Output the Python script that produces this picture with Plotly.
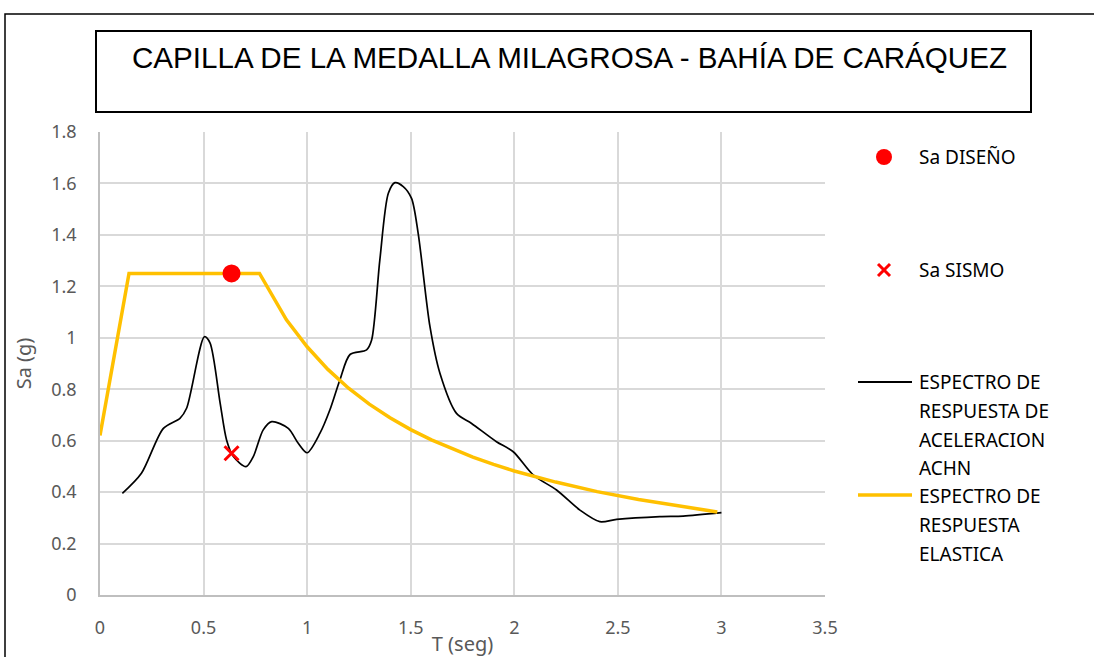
import plotly.graph_objects as go

# ---- data ----
t_achn = [0.108, 0.20, 0.306, 0.386, 0.418, 0.504, 0.531, 0.58, 0.611, 0.644, 0.705, 0.74, 0.788,
          0.829, 0.909, 0.957, 1.0, 1.062, 1.11, 1.158, 1.207, 1.287, 1.311, 1.351, 1.392, 1.424,
          1.464, 1.504, 1.536, 1.593, 1.641, 1.721, 1.794, 1.914, 1.995, 2.091, 2.204, 2.317,
          2.413, 2.494, 2.703, 2.815, 3.0]
sa_achn = [0.395, 0.473, 0.648, 0.687, 0.726, 1.004, 0.98, 0.746, 0.603, 0.538, 0.499, 0.538, 0.642,
           0.674, 0.648, 0.59, 0.553, 0.629, 0.72, 0.836, 0.935, 0.953, 0.99, 1.303, 1.562, 1.603,
           1.588, 1.542, 1.406, 1.043, 0.862, 0.706, 0.667, 0.596, 0.557, 0.467, 0.408, 0.33,
           0.285, 0.294, 0.305, 0.307, 0.32]

t_elast = [0.0, 0.14, 0.77, 0.85, 0.9, 1.0, 1.1, 1.2, 1.3, 1.4, 1.5, 1.6, 1.7, 1.8, 1.9, 2.0,
           2.2, 2.4, 2.6, 2.8, 2.98]
sa_elast = [0.62, 1.25, 1.25, 1.135, 1.07, 0.965, 0.877, 0.804, 0.742, 0.689, 0.643, 0.603, 0.568,
            0.536, 0.508, 0.482, 0.439, 0.402, 0.371, 0.345, 0.323]

t_diseno = [0.635]
sa_diseno = [1.25]
t_sismo = [0.635]
sa_sismo = [0.551]

x_ticks = [0, 0.5, 1, 1.5, 2, 2.5, 3, 3.5]
y_ticks = [0, 0.2, 0.4, 0.6, 0.8, 1, 1.2, 1.4, 1.6, 1.8]

title_text = "CAPILLA DE LA MEDALLA MILAGROSA - BAHÍA DE CARÁQUEZ"
legend_labels = ["Sa DISEÑO", "Sa SISMO",
                 ["ESPECTRO DE", "RESPUESTA DE", "ACELERACION", "ACHN"],
                 ["ESPECTRO DE", "RESPUESTA", "ELASTICA"]]

# ---- layout geometry (screen pixels) ----
W, H = 1094, 657
L, R, T, B = 100, 825, 132, 595
pw, ph = R - L, B - T


def px(x):
    return (x - L) / pw


def py(y):
    return (B - y) / ph


FONT = "Noto Sans"
GRAY = "#595959"
ORANGE = "#FFC000"

fig = go.Figure()
fig.add_trace(go.Scatter(x=t_achn, y=sa_achn, mode="lines",
                         line=dict(color="black", width=1.7, shape="spline", smoothing=0.8),
                         name="ACHN", showlegend=False))
fig.add_trace(go.Scatter(x=t_elast, y=sa_elast, mode="lines", line=dict(color=ORANGE, width=3.5),
                         name="ELASTICA", showlegend=False))
fig.add_trace(go.Scatter(x=t_diseno, y=sa_diseno, mode="markers", marker=dict(color="#FF0000", size=18),
                         name=legend_labels[0], showlegend=False))
fig.add_trace(go.Scatter(x=t_sismo, y=sa_sismo, mode="markers",
                         marker=dict(symbol="x-thin", size=14, line=dict(color="#FF0000", width=3)),
                         name=legend_labels[1], showlegend=False))

shapes = []
annotations = []
# outer border
shapes.append(dict(type="rect", xref="paper", yref="paper", x0=px(5), x1=px(1110), y0=py(680), y1=py(14),
                   line=dict(color="black", width=1.5), layer="below"))
# title box
shapes.append(dict(type="rect", xref="paper", yref="paper", x0=px(96), x1=px(1031), y0=py(112), y1=py(31),
                   line=dict(color="black", width=2), layer="below"))
annotations.append(dict(text=title_text, xref="paper", yref="paper", x=px(569), y=py(57), showarrow=False,
                        xanchor="center", yanchor="middle",
                        font=dict(family="Liberation Sans", size=29.6, color="black")))

# manual legend
LX = 917
leg_font = dict(family=FONT, size=19, color="black")
shapes.append(dict(type="circle", xref="paper", yref="paper", xsizemode="pixel", ysizemode="pixel",
                   xanchor=px(884), yanchor=py(157), x0=-8, x1=8, y0=-8, y1=8,
                   fillcolor="#FF0000", line=dict(color="#FF0000", width=0)))
annotations.append(dict(text=legend_labels[0], xref="paper", yref="paper", x=px(LX), y=py(157), showarrow=False,
                        xanchor="left", yanchor="middle", font=leg_font))
for a, b in [(-6, 6), (6, -6)]:
    shapes.append(dict(type="line", xref="paper", yref="paper", xsizemode="pixel", ysizemode="pixel",
                       xanchor=px(884), yanchor=py(270), x0=-6, x1=6, y0=a, y1=b,
                       line=dict(color="#FF0000", width=3)))
annotations.append(dict(text=legend_labels[1], xref="paper", yref="paper", x=px(LX), y=py(270), showarrow=False,
                        xanchor="left", yanchor="middle", font=leg_font))
shapes.append(dict(type="line", xref="paper", yref="paper", x0=px(858), x1=px(912), y0=py(382), y1=py(382),
                   line=dict(color="black", width=2)))
for i, yy in enumerate([382, 411, 440, 468]):
    annotations.append(dict(text=legend_labels[2][i], xref="paper", yref="paper", x=px(LX), y=py(yy),
                            showarrow=False, xanchor="left", yanchor="middle", font=leg_font))
shapes.append(dict(type="line", xref="paper", yref="paper", x0=px(858), x1=px(912), y0=py(495), y1=py(495),
                   line=dict(color=ORANGE, width=3.5)))
for i, yy in enumerate([496, 525, 554]):
    annotations.append(dict(text=legend_labels[3][i], xref="paper", yref="paper", x=px(LX), y=py(yy),
                            showarrow=False, xanchor="left", yanchor="middle", font=leg_font))

fig.update_layout(
    width=W, height=H,
    margin=dict(l=L, r=W - R, t=T, b=H - B, pad=0, autoexpand=False),
    paper_bgcolor="white", plot_bgcolor="white",
    showlegend=False,
    shapes=shapes, annotations=annotations,
    xaxis=dict(range=[0, 3.5], tickvals=x_ticks, ticktext=[str(v) for v in x_ticks], automargin=False,
               showgrid=True, gridcolor="#D9D9D9", gridwidth=1.5, zeroline=False,
               showline=True, linecolor="#BFBFBF", linewidth=1.5,
               ticks="outside", ticklen=16, tickcolor="rgba(0,0,0,0)",
               tickfont=dict(family=FONT, size=18, color=GRAY),
               title=dict(text="T (seg)", font=dict(family=FONT, size=20, color=GRAY), standoff=0)),
    yaxis=dict(range=[0, 1.8], tickvals=y_ticks, ticktext=[("%g" % v) for v in y_ticks], automargin=False,
               showgrid=True, gridcolor="#D9D9D9", gridwidth=1.5, zeroline=False,
               showline=True, linecolor="#BFBFBF", linewidth=1.5,
               ticks="outside", ticklen=18, tickcolor="rgba(0,0,0,0)",
               tickfont=dict(family=FONT, size=18, color=GRAY),
               title=dict(text="Sa (g)", font=dict(family=FONT, size=20, color=GRAY), standoff=14)),
)

post = ("document.body.style.margin='0px';"
        "var gd=document.getElementsByClassName('plotly-graph-div')[0];"
        "gd.style.position='fixed';gd.style.top='0px';gd.style.left='0px';"
        "document.documentElement.style.overflow='hidden';document.body.style.overflow='hidden';")
fig.write_html("out.html", post_script=post, config={"displayModeBar": False})
